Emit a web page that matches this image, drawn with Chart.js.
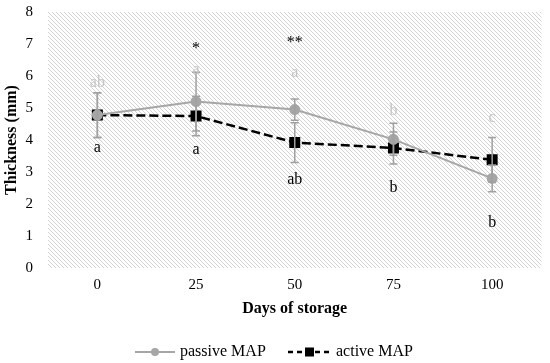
<!DOCTYPE html>
<html>
<head>
<meta charset="utf-8">
<script src="https://cdn.jsdelivr.net/npm/chart.js@4"></script>
<style>
  html, body { margin: 0; padding: 0; background: #fff; }
  #wrap { width: 550px; height: 363px; }
</style>
</head>
<body>
<div id="wrap"><canvas id="c" width="550" height="363"></canvas></div>
<script>
const days = ["0", "25", "50", "75", "100"];
const passive = [4.78, 5.2, 4.95, 4.02, 2.8];
const passiveErr = [0.7, 0.92, 0.33, 0.5, 0.42];
const active = [4.78, 4.75, 3.92, 3.75, 3.38];
const activeErr = [0.7, 0.62, 0.62, 0.5, 0.7];
const yTicks = [0, 1, 2, 3, 4, 5, 6, 7, 8];

// letters and stars (value = height on the thickness axis)
const passiveLetters = ["ab", "a", "a", "b", "c"];
const passiveLetterY = [5.8, 6.2, 6.1, 4.9, 4.7];
const activeLetters = ["a", "a", "ab", "b", "b"];
const activeLetterY = [3.75, 3.7, 2.75, 2.5, 1.4];
const stars = ["", "*", "**", "", ""];
const starY = [0, 6.85, 7.05, 0, 0];

const SERIF = "'Liberation Serif', 'Times New Roman', serif";
const GREY = "#a6a6a6";

function hatch() {
  const p = document.createElement("canvas");
  p.width = 4; p.height = 4;
  const g = p.getContext("2d");
  g.fillStyle = "#fff";
  g.fillRect(0, 0, 4, 4);
  g.strokeStyle = "#d2d2d2";
  g.lineWidth = 1;
  g.beginPath();
  g.moveTo(0, 0); g.lineTo(4, 4);
  g.moveTo(-1, 3); g.lineTo(1, 5);
  g.moveTo(3, -1); g.lineTo(5, 1);
  g.stroke();
  return g.createPattern(p, "repeat");
}

const bgPlugin = {
  id: "bg",
  beforeDraw(chart) {
    const { ctx, chartArea: a } = chart;
    ctx.save();
    ctx.fillStyle = hatch();
    ctx.fillRect(a.left, a.top, a.right - a.left, a.bottom - a.top);
    ctx.restore();
  }
};

const errPlugin = {
  id: "errbars",
  afterDatasetsDraw(chart) {
    const { ctx, scales: { x, y } } = chart;
    ctx.save();
    ctx.strokeStyle = "#a0a0a0";
    ctx.lineWidth = 1.5;
    const draw = (vals, errs) => vals.forEach((v, i) => {
      const px = x.getPixelForValue(i);
      const top = y.getPixelForValue(v + errs[i]);
      const bot = y.getPixelForValue(v - errs[i]);
      ctx.beginPath();
      ctx.moveTo(px, top); ctx.lineTo(px, bot);
      ctx.moveTo(px - 4, top); ctx.lineTo(px + 4, top);
      ctx.moveTo(px - 4, bot); ctx.lineTo(px + 4, bot);
      ctx.stroke();
    });
    draw(passive, passiveErr);
    draw(active, activeErr);
    ctx.restore();
  },
  afterDraw(chart) {
    const { ctx, scales: { x, y } } = chart;
    ctx.save();
    ctx.font = "16px " + SERIF;
    ctx.textAlign = "center";
    ctx.textBaseline = "middle";
    days.forEach((d, i) => {
      const px = x.getPixelForValue(i);
      ctx.fillStyle = "#c4c4c4";
      ctx.fillText(passiveLetters[i], px, y.getPixelForValue(passiveLetterY[i]));
      ctx.fillStyle = "#000";
      ctx.fillText(activeLetters[i], px, y.getPixelForValue(activeLetterY[i]));
      if (stars[i]) ctx.fillText(stars[i], px, y.getPixelForValue(starY[i]));
    });
    // legend
    const ly = 352;
    ctx.textAlign = "left";
    ctx.strokeStyle = GREY; ctx.lineWidth = 2; ctx.setLineDash([]);
    ctx.beginPath(); ctx.moveTo(135, ly); ctx.lineTo(175, ly); ctx.stroke();
    ctx.fillStyle = GREY;
    ctx.beginPath(); ctx.arc(155, ly, 4, 0, Math.PI * 2); ctx.fill();
    ctx.fillStyle = "#000";
    ctx.fillText("passive MAP", 180, ly);
    ctx.strokeStyle = "#000"; ctx.lineWidth = 2.5; ctx.setLineDash([5, 4]);
    ctx.beginPath(); ctx.moveTo(288, ly); ctx.lineTo(331, ly); ctx.stroke();
    ctx.setLineDash([]);
    ctx.fillRect(305, ly - 4.5, 9, 9);
    ctx.fillText("active MAP", 336, ly);
    ctx.restore();
  }
};

new Chart(document.getElementById("c"), {
  type: "line",
  data: {
    labels: days,
    datasets: [
      {
        label: "passive MAP",
        data: passive,
        borderColor: GREY,
        backgroundColor: GREY,
        borderWidth: 2,
        pointStyle: "circle",
        pointRadius: 4.5,
        tension: 0
      },
      {
        label: "active MAP",
        data: active,
        borderColor: "#000",
        backgroundColor: "#000",
        borderWidth: 2.5,
        borderDash: [9, 4],
        pointStyle: "rect",
        pointRadius: 6,
        tension: 0
      }
    ]
  },
  options: {
    responsive: false,
    animation: false,
    layout: { padding: { left: 2, right: 5, top: 12, bottom: 45 } },
    plugins: { legend: { display: false }, tooltip: { enabled: false } },
    scales: {
      x: {
        offset: true,
        afterFit(axis) { axis.height = 50; axis.paddingLeft = 0; axis.paddingRight = 0; },
        grid: { display: false, drawTicks: false },
        border: { display: false },
        ticks: { color: "#000", font: { family: SERIF, size: 15 }, padding: 8 },
        title: { display: true, text: "Days of storage", color: "#000", font: { family: SERIF, size: 16, weight: "bold" }, padding: { top: 3, bottom: 0 } }
      },
      y: {
        min: 0, max: 8,
        afterBuildTicks(axis) { axis.ticks = yTicks.map(v => ({ value: v })); },
        afterFit(axis) { axis.width = 46; axis.paddingTop = 0; axis.paddingBottom = 0; },
        grid: { display: false, drawTicks: false },
        border: { display: false },
        ticks: { color: "#000", font: { family: SERIF, size: 15 }, padding: 15 },
        title: { display: true, text: "Thickness (mm)", color: "#000", font: { family: SERIF, size: 16, weight: "bold" }, padding: { top: 0, bottom: 3 } }
      }
    }
  },
  plugins: [bgPlugin, errPlugin]
});
</script>
</body>
</html>
